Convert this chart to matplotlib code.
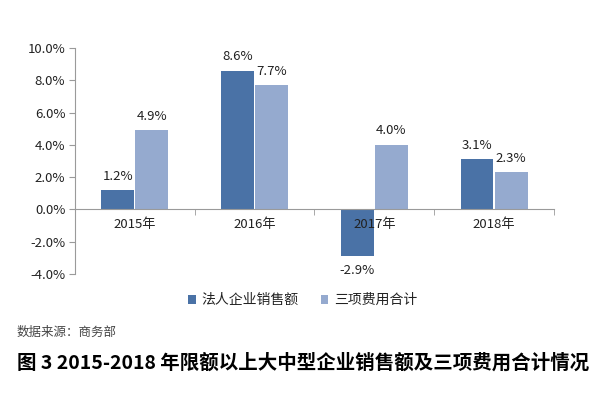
import numpy as np
import matplotlib
matplotlib.use("Agg")
import matplotlib.pyplot as plt
from matplotlib.ticker import FuncFormatter, FixedLocator

plt.rcParams['font.family'] = ['Noto Sans CJK SC', 'DejaVu Sans']

years = ["2015年", "2016年", "2017年", "2018年"]
sales = [1.2, 8.6, -2.9, 3.1]        # 法人企业销售额
expenses = [4.9, 7.7, 4.0, 2.3]      # 三项费用合计
series_names = ["法人企业销售额", "三项费用合计"]
y_ticks = [-4, -2, 0, 2, 4, 6, 8, 10]

DARK = "#4A72A6"
LIGHT = "#95AACF"
AXIS = "#9A9A9A"

fig = plt.figure(figsize=(6.07, 3.98), dpi=100)
ax = fig.add_axes([0.1236, 0.3116, 0.789, 0.568])

x = np.arange(len(years))
w = 0.275
b1 = ax.bar(x - w / 2 - 0.005, sales, w, color=DARK, label=series_names[0], zorder=2)
b2 = ax.bar(x + w / 2 + 0.005, expenses, w, color=LIGHT, label=series_names[1], zorder=2)

for bars in (b1, b2):
    for r in bars:
        v = r.get_height()
        off = 14 if v >= 0 else -14
        ax.annotate(f"{v:.1f}%", (r.get_x() + r.get_width() / 2, v),
                    xytext=(0, off), textcoords="offset pixels",
                    ha="center", va="center", fontsize=9.5, color="#222222")

ax.set_xlim(-0.5, len(years) - 0.5)
ax.set_ylim(-4, 10)
ax.set_yticks(y_ticks)
ax.yaxis.set_major_formatter(FuncFormatter(lambda v, p: f"{v:.1f}%"))
ax.tick_params(axis="y", length=4, color=AXIS, labelsize=9.5, pad=3, labelcolor="#222222")

for s in ("top", "right"):
    ax.spines[s].set_visible(False)
ax.spines["left"].set_color(AXIS)
ax.spines["bottom"].set_color(AXIS)
ax.spines["bottom"].set_position(("data", 0))
ax.spines["bottom"].set_zorder(3)

ax.xaxis.set_major_locator(FixedLocator(x))
ax.set_xticklabels(years)
ax.xaxis.set_minor_locator(FixedLocator(np.arange(-0.5, len(years), 1.0)))
ax.tick_params(axis="x", which="major", length=0, labelsize=9.5, pad=6, labelcolor="#222222")
ax.tick_params(axis="x", which="minor", length=4, color=AXIS, direction="out")
ax.xaxis.set_zorder(4)

ax.legend(loc="upper center", bbox_to_anchor=(0.475, -0.03), ncol=2, frameon=False,
          fontsize=10, handlelength=0.55, handleheight=0.55, handletextpad=0.4,
          columnspacing=1.6, labelcolor="#222222")

fig.text(0.028, 0.165, "数据来源：商务部", fontsize=9, color="#444444", va="center")
fig.text(0.028, 0.087, "图 3 2015-2018 年限额以上大中型企业销售额及三项费用合计情况",
         fontsize=14, fontweight="bold", color="#000000", va="center")

fig.savefig("out.png", dpi=100)
